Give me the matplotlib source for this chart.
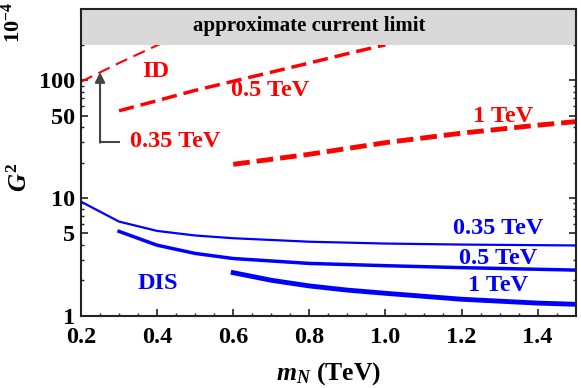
import matplotlib
matplotlib.use("Agg")
import matplotlib.pyplot as plt
import numpy as np
from matplotlib.ticker import FixedLocator, NullFormatter

plt.rcParams['font.family'] = ['Liberation Serif', 'DejaVu Serif']
plt.rcParams['font.weight'] = 'bold'
plt.rcParams['mathtext.fontset'] = 'custom'
plt.rcParams['mathtext.it'] = 'Liberation Serif:bold:italic'
plt.rcParams['mathtext.rm'] = 'Liberation Serif:bold'
plt.rcParams['mathtext.bf'] = 'Liberation Serif:bold'
plt.rcParams['lines.scale_dashes'] = False

# ID (dashed, red) curves
id035_x = [0.2, 0.3, 0.4, 0.45]
id035_y = [97, 140, 198, 230]
id05_x = [0.3, 0.4, 0.5, 0.6, 0.7, 0.8, 0.9, 1.0]
id05_y = [55, 67, 82, 98, 117, 140, 168, 200]
id1_x = [0.6, 0.8, 1.0, 1.2, 1.4, 1.5]
id1_y = [19.3, 23.5, 29.5, 35.5, 41.5, 44.5]

# DIS (solid, blue) curves
dis035_x = [0.2, 0.3, 0.4, 0.5, 0.6, 0.8, 1.0, 1.2, 1.5]
dis035_y = [9.3, 6.3, 5.25, 4.8, 4.55, 4.25, 4.1, 4.02, 3.95]
dis05_x = [0.3, 0.4, 0.5, 0.6, 0.8, 1.0, 1.2, 1.5]
dis05_y = [5.2, 3.97, 3.38, 3.06, 2.78, 2.66, 2.56, 2.44]
dis1_x = [0.6, 0.7, 0.8, 0.9, 1.0, 1.2, 1.4, 1.5]
dis1_y = [2.32, 2.0, 1.79, 1.65, 1.55, 1.38, 1.28, 1.25]

limit_band = [200, 400]

fig = plt.figure(figsize=(5.81, 3.88), dpi=100)
ax = fig.add_axes([0.1394, 0.1863, 0.8516, 0.7897])
ax.set_xlim(0.2, 1.5)
ax.set_yscale('log')
ax.set_ylim(1, 400)

red = '#ff0000'
blue = '#0000ff'
ax.plot(id035_x, id035_y, color=red, lw=1.5, dashes=(9, 5))
ax.plot(id05_x, id05_y, color=red, lw=2.5, dashes=(11, 5))
ax.plot(id1_x, id1_y, color=red, lw=3.5, dashes=(12, 5))

ax.plot(dis035_x, dis035_y, color=blue, lw=1.6)
ax.plot(dis05_x, dis05_y, color=blue, lw=2.5)
ax.plot(dis1_x, dis1_y, color=blue, lw=3.5)

ax.axhspan(limit_band[0], limit_band[1], color='#d9d9d9', zorder=3, lw=0)
ax.text(0.80, 287, 'approximate current limit', ha='center', va='center',
        fontsize=15, fontweight='bold', color='black', zorder=4)

lab_fs = 17.5
ax.text(0.395, 119, 'ID', color=red, fontsize=lab_fs, fontweight='bold', ha='center', va='center')
ax.text(0.697, 81, '0.5 TeV', color=red, fontsize=lab_fs, fontweight='bold', ha='center', va='center')
ax.text(0.447, 30.4, '0.35 TeV', color=red, fontsize=lab_fs, fontweight='bold', ha='center', va='center')
ax.text(1.31, 49.6, '1 TeV', color=red, fontsize=lab_fs, fontweight='bold', ha='center', va='center')

ax.text(0.403, 1.89, 'DIS', color=blue, fontsize=lab_fs, fontweight='bold', ha='center', va='center')
ax.text(1.295, 5.53, '0.35 TeV', color=blue, fontsize=lab_fs, fontweight='bold', ha='center', va='center')
ax.text(1.295, 3.08, '0.5 TeV', color=blue, fontsize=lab_fs, fontweight='bold', ha='center', va='center')
ax.text(1.295, 1.82, '1 TeV', color=blue, fontsize=lab_fs, fontweight='bold', ha='center', va='center')

# arrow
ax.plot([0.3, 0.25], [29.8, 29.8], color='#444444', lw=1.5)
ax.annotate('', xy=(0.25, 117), xytext=(0.25, 29.5),
            arrowprops=dict(arrowstyle='-|>', color='#444444', lw=1.5,
                            mutation_scale=15, shrinkA=0, shrinkB=0))

ax.xaxis.set_major_locator(FixedLocator([0.2, 0.4, 0.6, 0.8, 1.0, 1.2, 1.4]))
ax.xaxis.set_minor_locator(FixedLocator([v for v in np.arange(0.25, 1.5, 0.05)
                                         if abs(v * 5 - round(v * 5)) > 1e-6]))
ax.set_xticklabels(['0.2', '0.4', '0.6', '0.8', '1.0', '1.2', '1.4'])
ax.yaxis.set_major_locator(FixedLocator([1, 5, 10, 50, 100]))
minors = [m * d for d in (1, 10, 100) for m in range(2, 10) if m * d not in (5, 50) and m * d < 400]
ax.yaxis.set_minor_locator(FixedLocator(minors))
ax.yaxis.set_minor_formatter(NullFormatter())
ax.set_yticklabels(['1', '5', '10', '50', '100'])

ax.tick_params(which='both', direction='in', top=True, right=True,
               labelsize=17.5, color='#222222')
ax.tick_params(which='major', length=5, width=1.2)
ax.tick_params(which='minor', length=2.5, width=1.0)
ax.tick_params(axis='x', which='major', pad=8)
ax.tick_params(axis='y', which='major', pad=4)
for lab in ax.get_xticklabels() + ax.get_yticklabels():
    lab.set_fontweight('bold')
for lab in ax.get_yticklabels():
    lab.set_verticalalignment('center_baseline')
for s in ax.spines.values():
    s.set_linewidth(1.5)
    s.set_color('#222222')
    s.set_zorder(5)

ax.set_xlabel('$m_N$ (TeV)', fontsize=18.5, fontweight='bold', labelpad=9)
fig.text(0.035, 0.544, '$G^2$', rotation=90, fontsize=18, ha='center', va='center')
fig.text(0.022, 0.943, r'$10^{-4}$', rotation=90, fontsize=16, ha='center', va='center')

fig.savefig('out.png', dpi=100)
